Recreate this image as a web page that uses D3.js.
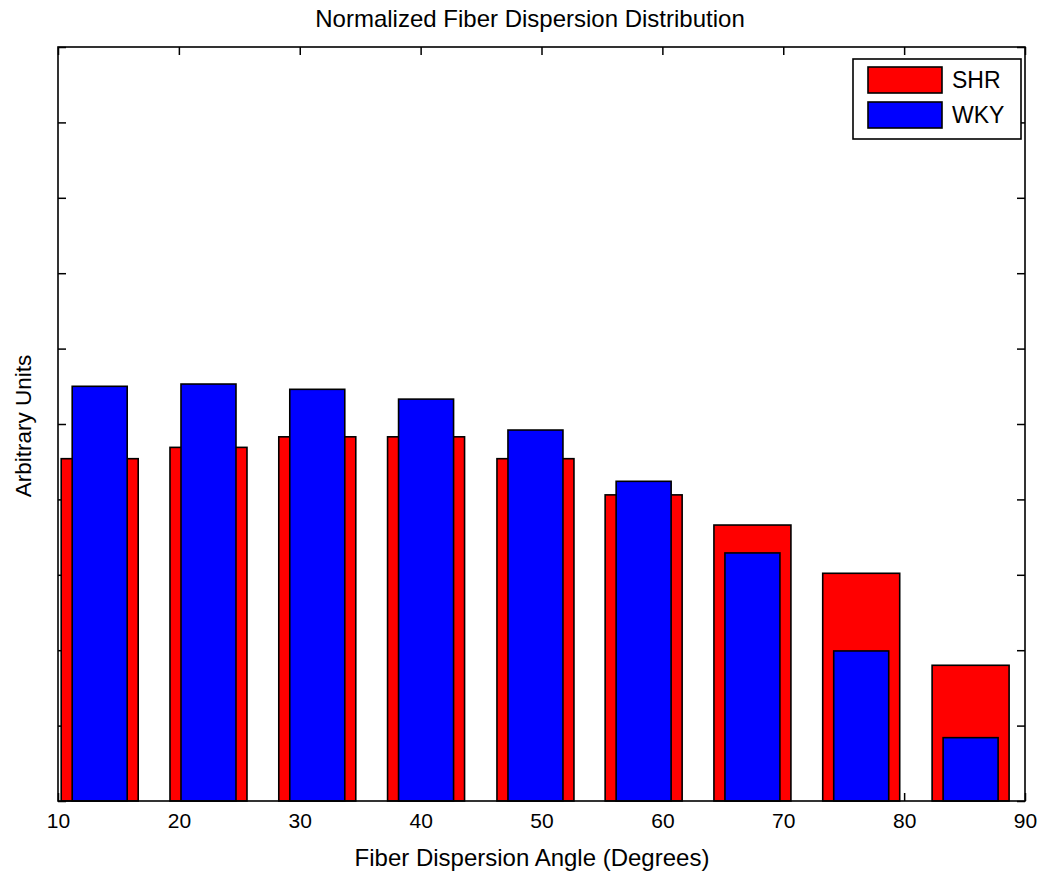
<!DOCTYPE html>
<html>
<head>
<meta charset="utf-8">
<script src="https://cdn.jsdelivr.net/npm/d3@7"></script>
<style>
  html, body { margin: 0; padding: 0; background: #fff; }
  svg { display: block; font-family: "Liberation Sans", Arial, Helvetica, sans-serif; }
</style>
</head>
<body>
<svg id="chart" width="1051" height="877"></svg>
<script>
// ---- data ----
const categories = [13.45, 22.45, 31.45, 40.45, 49.5, 58.45, 67.45, 76.45, 85.5]; // bin centres (degrees)
const shrValues  = [4.54, 4.69, 4.83, 4.83, 4.54, 4.06, 3.66, 3.02, 1.80];
const wkyValues  = [5.50, 5.53, 5.46, 5.33, 4.92, 4.24, 3.29, 1.99, 0.84];
const xTickValues = [10, 20, 30, 40, 50, 60, 70, 80, 90];
const xTickLabels = ["10", "20", "30", "40", "50", "60", "70", "80", "90"];
const yTickValues = [0, 1, 2, 3, 4, 5, 6, 7, 8, 9, 10];
const seriesNames = ["SHR", "WKY"];

// ---- layout ----
const svg = d3.select("#chart");
const pL = 58, pR = 1025, pT = 47, pB = 801;
const x = d3.scaleLinear().domain([10, 90]).range([pL, pR]);
const y = d3.scaleLinear().domain([0, 10]).range([pB, pT]);
const shrWidth = 6.37, wkyWidth = 4.55;   // bar widths in data units
const colors = { SHR: "#ff0000", WKY: "#0000ff" };

// ticks (drawn beneath the bars)
const tickG = svg.append("g");
const fmt = (d) => xTickLabels[xTickValues.indexOf(d)];
const bAx = tickG.append("g").attr("transform", `translate(0,${pB})`)
  .call(d3.axisBottom(x).tickValues(xTickValues).tickFormat(fmt).tickSizeInner(-8).tickSizeOuter(0).tickPadding(12));
tickG.append("g").attr("transform", `translate(0,${pT})`)
  .call(d3.axisTop(x).tickValues(xTickValues).tickFormat("").tickSizeInner(-8).tickSizeOuter(0));
tickG.append("g").attr("transform", `translate(${pL},0)`)
  .call(d3.axisLeft(y).tickValues(yTickValues).tickFormat("").tickSizeInner(-8).tickSizeOuter(0));
tickG.append("g").attr("transform", `translate(${pR},0)`)
  .call(d3.axisRight(y).tickValues(yTickValues).tickFormat("").tickSizeInner(-8).tickSizeOuter(0));
tickG.selectAll(".domain").remove();
tickG.selectAll(".tick line").attr("stroke", "#000").attr("stroke-width", 1.5);
bAx.selectAll(".tick text").attr("font-size", 21).attr("fill", "#000")
  .attr("font-family", '"Liberation Sans", Arial, sans-serif');

// bars
const bars = svg.append("g");
bars.selectAll("rect.shr").data(categories).join("rect")
  .attr("class", "shr")
  .attr("x", (d) => x(d - shrWidth / 2))
  .attr("width", (d) => x(d + shrWidth / 2) - x(d - shrWidth / 2))
  .attr("y", (d, i) => y(shrValues[i]))
  .attr("height", (d, i) => y(0) - y(shrValues[i]))
  .attr("fill", colors.SHR).attr("stroke", "#000").attr("stroke-width", 1.6);
bars.selectAll("rect.wky").data(categories).join("rect")
  .attr("class", "wky")
  .attr("x", (d) => x(d - wkyWidth / 2))
  .attr("width", (d) => x(d + wkyWidth / 2) - x(d - wkyWidth / 2))
  .attr("y", (d, i) => y(wkyValues[i]))
  .attr("height", (d, i) => y(0) - y(wkyValues[i]))
  .attr("fill", colors.WKY).attr("stroke", "#000").attr("stroke-width", 1.6);

// axes box
svg.append("rect")
  .attr("x", pL).attr("y", pT).attr("width", pR - pL).attr("height", pB - pT)
  .attr("fill", "none").attr("stroke", "#000").attr("stroke-width", 1.6);

// title & labels
svg.append("text").attr("x", 530).attr("y", 27).attr("text-anchor", "middle")
  .attr("font-size", 24).text("Normalized Fiber Dispersion Distribution");
svg.append("text").attr("x", 532).attr("y", 866).attr("text-anchor", "middle")
  .attr("font-size", 24).text("Fiber Dispersion Angle (Degrees)");
svg.append("text").attr("transform", "translate(31,426) rotate(-90)").attr("text-anchor", "middle")
  .attr("font-size", 22.5).text("Arbitrary Units");

// legend
const lg = svg.append("g");
lg.append("rect").attr("x", 853).attr("y", 59).attr("width", 168).attr("height", 80)
  .attr("fill", "#fff").attr("stroke", "#000").attr("stroke-width", 1.6);
seriesNames.forEach((name, i) => {
  const yy = 67 + i * 35;
  lg.append("rect").attr("x", 868).attr("y", yy).attr("width", 74).attr("height", 26)
    .attr("fill", colors[name]).attr("stroke", "#000").attr("stroke-width", 1.6);
  lg.append("text").attr("x", 952).attr("y", yy + 21).attr("font-size", 23).text(name);
});
</script>
</body>
</html>
